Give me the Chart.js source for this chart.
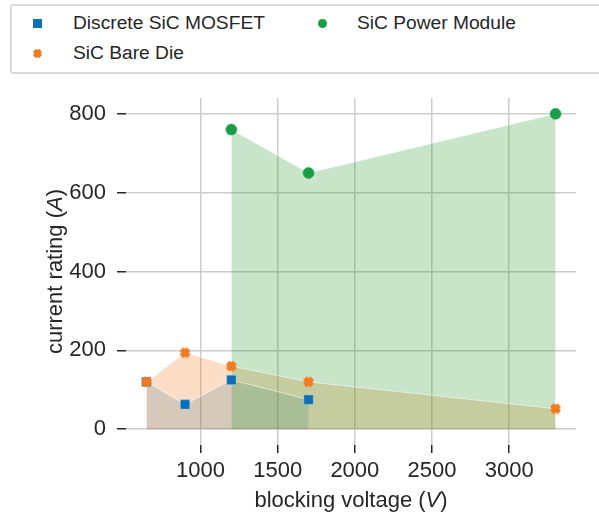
<!DOCTYPE html>
<html>
<head>
<meta charset="utf-8">
<script src="https://cdn.jsdelivr.net/npm/chart.js@4.4.1/dist/chart.umd.min.js"></script>
<style>
    body { margin: 0; background: #fff; }
    #wrap { position: relative; width: 599px; height: 515px; overflow: hidden; }
    #legend {
        position: absolute; left: 10px; top: 4px; width: 620px; height: 66px;
        border: 2px solid #d9d9d9; border-radius: 3px; background: #fff;
    }
    .lab {
        position: absolute; font: 19.2px "Liberation Sans", Arial, sans-serif;
        color: #262626; line-height: 24px; white-space: nowrap;
    }
    .mk { position: absolute; }
</style>
</head>
<body>
<div id="wrap">
    <canvas id="chart" width="599" height="515"></canvas>
    <div id="legend"></div>
</div>
<script>
const mosfetV = [650, 900, 1200, 1700];
const mosfetA = [120, 63, 125, 75];
const bareDieV = [650, 900, 1200, 1700, 3300];
const bareDieA = [120, 194, 160, 120, 52];
const moduleV = [1200, 1700, 3300];
const moduleA = [760, 650, 800];
const xTicks = [1000, 1500, 2000, 2500, 3000];
const yTicks = [0, 200, 400, 600, 800];

const blue = '#0a6fb3';
const orange = '#f47a20';
const green = '#1a9e45';

// filled "X" marker like matplotlib's
function xMarker(size, color) {
    const c = document.createElement('canvas');
    c.width = c.height = size;
    const g = c.getContext('2d');
    const p = size * 0.22;
    g.strokeStyle = color;
    g.lineWidth = size * 0.4;
    g.beginPath();
    g.moveTo(p, p); g.lineTo(size - p, size - p);
    g.moveTo(size - p, p); g.lineTo(p, size - p);
    g.stroke();
    return c;
}

const toPts = (xs, ys) => xs.map((x, i) => ({ x: x, y: ys[i] }));

// legend (HTML, two columns like the original)
const legend = document.getElementById('legend');
function addItem(marker, text, cx, cy, tx) {
    marker.classList.add('mk');
    legend.appendChild(marker);
    const w = marker.width || parseFloat(marker.style.width);
    marker.style.left = (cx - 12 - w / 2) + 'px';
    marker.style.top = (cy - 6 - w / 2) + 'px';
    const s = document.createElement('div');
    s.className = 'lab';
    s.textContent = text;
    s.style.left = (tx - 12) + 'px';
    s.style.top = (cy - 6 - 12) + 'px';
    legend.appendChild(s);
}
function box(color, size, round) {
    const d = document.createElement('div');
    d.style.width = size + 'px'; d.style.height = size + 'px';
    d.style.background = color;
    if (round) d.style.borderRadius = '50%';
    return d;
}
addItem(box(blue, 9, false), 'Discrete SiC MOSFET', 37, 23, 73);
addItem(box(green, 9, true), 'SiC Power Module', 322, 23, 357);
addItem(xMarker(11, orange), 'SiC Bare Die', 37, 53, 73);

// axis titles with italic unit letters
const axisTitles = {
    id: 'axisTitles',
    afterDraw(chart) {
        const { ctx, chartArea } = chart;
        const normal = '22px "Liberation Sans", Arial, sans-serif';
        const italic = 'italic 22px "Liberation Sans", Arial, sans-serif';
        function drawParts(parts, cx, cy, rot) {
            ctx.save();
            ctx.translate(cx, cy);
            ctx.rotate(rot);
            ctx.fillStyle = '#262626';
            ctx.textBaseline = 'alphabetic';
            let total = 0;
            parts.forEach(p => { ctx.font = p[1] ? italic : normal; total += ctx.measureText(p[0]).width; });
            let x = -total / 2;
            parts.forEach(p => {
                ctx.font = p[1] ? italic : normal;
                ctx.fillText(p[0], x, 0);
                x += ctx.measureText(p[0]).width;
            });
            ctx.restore();
        }
        drawParts([['blocking voltage (', false], ['V', true], [')', false]],
            (chartArea.left + chartArea.right) / 2, 507, 0);
        drawParts([['current rating (', false], ['A', true], [')', false]],
            62, (chartArea.top + chartArea.bottom) / 2, -Math.PI / 2);
    }
};

const tickFont = { family: '"Liberation Sans", Arial, sans-serif', size: 22 };

new Chart(document.getElementById('chart'), {
    type: 'line',
    data: {
        datasets: [
            {
                label: 'SiC Power Module',
                data: toPts(moduleV, moduleA),
                fill: 'origin',
                backgroundColor: 'rgba(35,150,40,0.25)',
                borderColor: 'rgba(255,255,255,0.5)',
                borderWidth: 1,
                pointStyle: 'circle',
                pointRadius: 5.5,
                pointBackgroundColor: green,
                pointBorderColor: green,
                pointBorderWidth: 0.5
            },
            {
                label: 'SiC Bare Die',
                data: toPts(bareDieV, bareDieA),
                fill: 'origin',
                backgroundColor: 'rgba(245,122,30,0.25)',
                borderColor: 'rgba(255,255,255,0.5)',
                borderWidth: 1,
                pointStyle: xMarker(13, orange),
                pointRadius: 6.5
            },
            {
                label: 'Discrete SiC MOSFET',
                data: toPts(mosfetV, mosfetA),
                fill: 'origin',
                backgroundColor: 'rgba(1,115,178,0.2)',
                borderColor: 'rgba(255,255,255,0.5)',
                borderWidth: 1,
                pointStyle: 'rect',
                pointRadius: 6.6,
                pointBackgroundColor: blue,
                pointBorderColor: 'rgba(160,200,230,0.8)',
                pointBorderWidth: 0.6
            }
        ]
    },
    options: {
        responsive: false,
        animation: false,
        events: [],
        layout: { padding: { top: 98, right: 23, left: 0, bottom: 0 } },
        plugins: {
            legend: { display: false },
            tooltip: { enabled: false },
            filler: { drawTime: 'beforeDatasetsDraw' }
        },
        scales: {
            x: {
                type: 'linear',
                min: 517.5,
                max: 3432.5,
                afterBuildTicks: s => { s.ticks = xTicks.map(v => ({ value: v })); },
                afterFit: s => { s.height = 70; },
                border: { display: false },
                grid: { color: '#cccccc', lineWidth: 1.5, tickColor: '#262626', tickWidth: 1.5, tickLength: 8 },
                ticks: { color: '#262626', font: tickFont, padding: 5, maxRotation: 0, callback: v => String(v) }
            },
            y: {
                min: -40,
                max: 840,
                afterBuildTicks: s => { s.ticks = yTicks.map(v => ({ value: v })); },
                afterFit: s => { s.width = 126; },
                border: { display: false },
                grid: { color: '#cccccc', lineWidth: 1.5, tickColor: '#262626', tickWidth: 1.5, tickLength: 9 },
                ticks: { color: '#262626', font: tickFont, padding: 11, callback: v => String(v) }
            }
        }
    },
    plugins: [axisTitles]
});
</script>
</body>
</html>
